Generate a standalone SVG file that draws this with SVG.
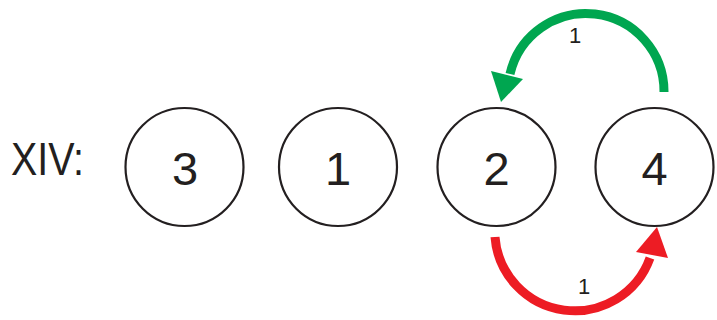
<svg xmlns="http://www.w3.org/2000/svg" width="717" height="320" viewBox="0 0 717 320">
<style>
.node circle{fill:#fff;stroke:#231f20;stroke-width:2.2}
.node text{font-family:"Liberation Sans",Arial,sans-serif;font-size:47px;fill:#231f20;text-anchor:middle}
.lbl{font-family:"Liberation Sans",Arial,sans-serif;font-size:22px;fill:#231f20;text-anchor:middle}
</style>
<rect width="717" height="320" fill="#fff"/>
<text x="11" y="175" font-family="Liberation Sans, Arial, sans-serif" font-size="46" fill="#231f20" textLength="73" lengthAdjust="spacingAndGlyphs">XIV:</text>
<g id="n3" class="node"><circle cx="184.5" cy="167" r="59"/><text x="185" y="185">3</text></g>
<g id="n1" class="node"><circle cx="338" cy="167" r="59"/><text x="338" y="185">1</text></g>
<g id="n2" class="node"><circle cx="496.5" cy="167" r="59"/><text x="496.5" y="185">2</text></g>
<g id="n4" class="node"><circle cx="654.5" cy="167" r="59"/><text x="654.5" y="185">4</text></g>
<g id="connectors">
<path d="M664,92 A78,78 0 0 0 510,74" fill="none" stroke="#00a650" stroke-width="9"/>
<polygon points="491,71 523,79 501,102" fill="#00a650"/>
<path d="M495,237 A80,80 0 0 0 650,258" fill="none" stroke="#ed1c24" stroke-width="9"/>
<polygon points="636,252 668,258 657,227" fill="#ed1c24"/>
<text class="lbl" x="575" y="43">1</text>
<text class="lbl" x="584" y="294">1</text>
</g>
</svg>
